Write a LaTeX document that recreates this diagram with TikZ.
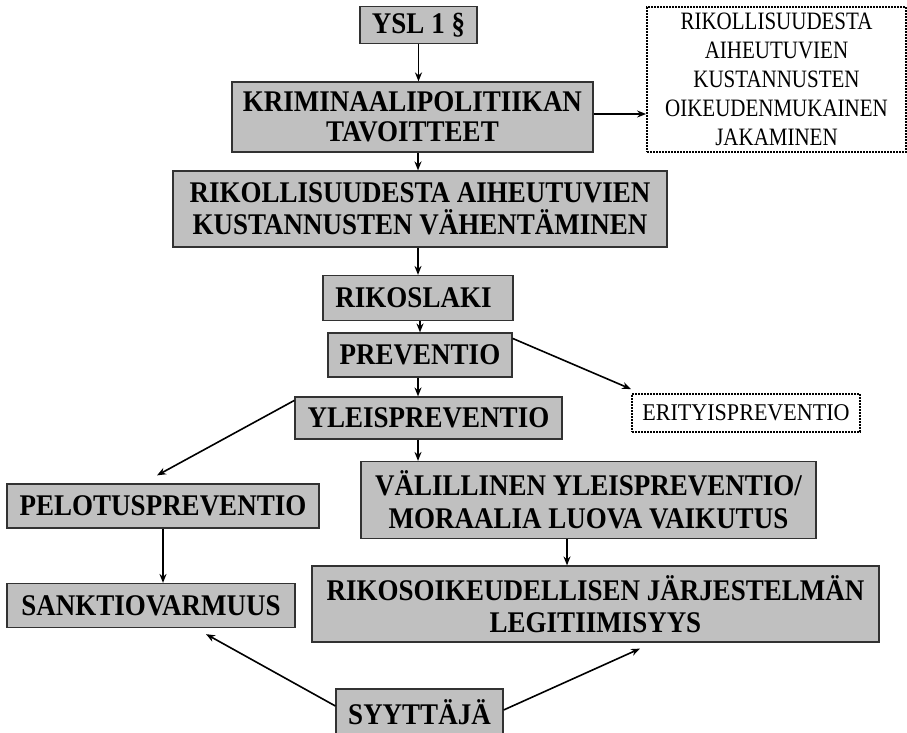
\documentclass[tikz,border=0pt]{standalone}
\usepackage{fontspec}
\setmainfont{Liberation Serif}[FakeStretch=0.9]
\newfontfamily\dotfont{Liberation Serif}[FakeStretch=0.84]
\newfontfamily\eritfont{Liberation Serif}[FakeStretch=0.92]
\usetikzlibrary{arrows.meta}
\definecolor{boxgray}{RGB}{192,192,192}
\definecolor{boxline}{RGB}{50,50,50}
\begin{document}
\begin{tikzpicture}[x=1pt,y=-1pt,
  gbox/.style={draw=boxline, fill=boxgray, line width=1.2pt, inner sep=0pt, align=center,
    font=\bfseries\fontsize{30}{32}\selectfont},
  dbox/.style={draw=black, line width=1.8pt, dash pattern=on 1.6pt off 1.4pt, fill=white,
    inner sep=0pt, align=center},
  arr/.style={-{Stealth[length=9pt,width=7pt]}, line width=1.6pt, black}]
\useasboundingbox (0,0) rectangle (907,732);
\fill[white] (0,0) rectangle (907,732);

\node[gbox, minimum width=117pt, minimum height=37pt] (ysl) at (418.5,25) {YSL 1 §};
\node[gbox, minimum width=361pt, minimum height=70pt, font=\bfseries\fontsize{30}{30}\selectfont] (krim) at (412.5,117) {KRIMINAALIPOLITIIKAN\\TAVOITTEET};
\node[dbox, minimum width=259pt, minimum height=145pt, font=\dotfont\fontsize{25}{29}\selectfont] (dot) at (776.5,79.5)
  {RIKOLLISUUDESTA\\AIHEUTUVIEN\\KUSTANNUSTEN\\OIKEUDENMUKAINEN\\JAKAMINEN};
\node[gbox, minimum width=494pt, minimum height=76pt] (rikoll) at (420,209) {RIKOLLISUUDESTA AIHEUTUVIEN\\KUSTANNUSTEN VÄHENTÄMINEN};
\node[gbox, minimum width=190pt, minimum height=45pt] (laki) at (418,298) {RIKOSLAKI\hspace{9pt}};
\node[gbox, minimum width=184pt, minimum height=44pt] (prev) at (420,355) {PREVENTIO};
\node[gbox, minimum width=267pt, minimum height=42pt] (yleis) at (428.5,418) {YLEISPREVENTIO};
\node[dbox, minimum width=228pt, minimum height=38pt, font=\eritfont\fontsize{24}{26}\selectfont] (erit) at (746,413) {ERITYISPREVENTIO};
\node[gbox, minimum width=455pt, minimum height=77pt, font=\bfseries\fontsize{30}{33}\selectfont] (valill) at (588.5,500) {VÄLILLINEN YLEISPREVENTIO/\\MORAALIA LUOVA VAIKUTUS};
\node[gbox, minimum width=312pt, minimum height=44pt] (pelot) at (163,506) {PELOTUSPREVENTIO};
\node[gbox, minimum width=288pt, minimum height=44pt] (sankt) at (151,605.5) {SANKTIOVARMUUS};
\node[gbox, minimum width=567pt, minimum height=76pt, font=\bfseries\fontsize{30}{32}\selectfont] (legit) at (595.5,604) {RIKOSOIKEUDELLISEN JÄRJESTELMÄN\\LEGITIIMISYYS};
\node[gbox, minimum width=167pt, minimum height=46pt] (syyt) at (419.5,712) {SYYTTÄJÄ};

\draw[arr] (ysl.south) -- (ysl.south |- krim.north);
\draw[arr] ([xshift=5.5pt]krim.south) -- ([xshift=5.5pt]krim.south |- rikoll.north);
\draw[arr] ([yshift=3pt]krim.east) -- ([yshift=3pt]krim.east -| dot.west);
\draw[arr] (laki.north |- rikoll.south) -- (laki.north);
\draw[arr] (prev.north |- laki.south) -- (prev.north);
\draw[arr] ([xshift=-2pt]prev.south) -- ([xshift=-2pt]prev.south |- yleis.north);
\draw[arr] ([yshift=-6pt]prev.north east) -- ([yshift=4pt]erit.north west);
\draw[arr] ([yshift=-4pt]yleis.north west) -- ([xshift=-6pt,yshift=8pt]pelot.north);
\draw[arr] ([xshift=-10.5pt]yleis.south) -- ([xshift=-10.5pt]yleis.south |- valill.north);
\draw[arr] ([xshift=-21.5pt]valill.south) -- ([xshift=-21.5pt]valill.south |- legit.north);
\draw[arr] (pelot.south) -- (pelot.south |- sankt.north);
\draw[arr] ([yshift=6pt]syyt.west) -- ([xshift=55pt,yshift=-6pt]sankt.south);
\draw[arr] ([yshift=2pt]syyt.east) -- ([xshift=44.5pt,yshift=-6pt]legit.south);
\end{tikzpicture}
\end{document}
